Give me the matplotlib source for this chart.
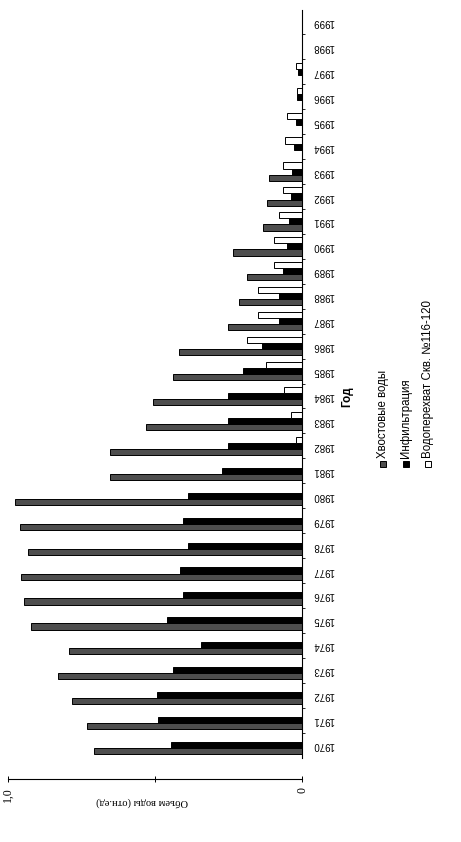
import matplotlib
matplotlib.use("Agg")
import matplotlib.pyplot as plt
from matplotlib.patches import Rectangle
import numpy as np

# Годы наблюдений
years = list(range(1970, 2000))

# Объем воды по источникам, отн. ед.
tailings = [0.707, 0.731, 0.782, 0.830, 0.793, 0.922, 0.946, 0.956, 0.932, 0.959,
            0.976, 0.653, 0.653, 0.531, 0.507, 0.439, 0.418, 0.252, 0.214, 0.187,
            0.235, 0.133, 0.119, 0.112, 0.0, 0.0, 0.0, 0.0, 0.0, 0.0]
infiltration = [0.446, 0.490, 0.493, 0.439, 0.344, 0.459, 0.405, 0.415, 0.388, 0.405,
                0.388, 0.272, 0.252, 0.252, 0.252, 0.201, 0.136, 0.078, 0.078, 0.065,
                0.051, 0.044, 0.037, 0.034, 0.027, 0.020, 0.017, 0.014, 0.0, 0.0]
interception = [0.0, 0.0, 0.0, 0.0, 0.0, 0.0, 0.0, 0.0, 0.0, 0.0,
                0.0, 0.0, 0.020, 0.037, 0.061, 0.122, 0.187, 0.150, 0.150, 0.095,
                0.095, 0.078, 0.065, 0.065, 0.058, 0.051, 0.017, 0.020, 0.0, 0.0]

series_names = ["Хвостовые воды", "Инфильтрация", "Водоперехват Скв. №116-120"]
series_colors = ["#4e4e4e", "#000000", "#ffffff"]

value_ticks = [0.0, 0.5, 1.0]
value_tick_labels = ["0", "", "1,0"]
value_title = "Объем воды (отн.ед)"
category_title = "Год"

W, H = 461, 842
fig = plt.figure(figsize=(W / 100, H / 100), dpi=100)


def fx(px):
    return px / W


def fy(py):
    return 1 - py / H


ax = fig.add_axes([fx(8), fy(757.5), fx(302 - 8), (757.5 - 9.5) / H])

pos = np.arange(len(years))
bh = 0.245
for i, (vals, col) in enumerate(zip([tailings, infiltration, interception], series_colors)):
    ax.barh(pos + (i - 1) * bh, vals, height=bh, color=col,
            edgecolor="black", linewidth=0.7)

ax.set_xlim(1.0, 0.0)
ax.set_ylim(-0.5, len(years) - 0.5)

# Category axis on the right side
for s in ["top", "left"]:
    ax.spines[s].set_visible(False)
ax.spines["right"].set_linewidth(0.8)
ax.yaxis.tick_right()
ax.set_yticks(pos)
ax.set_yticklabels([str(y) for y in years], rotation=180,
                   family="Liberation Sans", fontsize=7, va="center")
ax.set_yticks(pos[:-1] + 0.5, minor=True)
ax.tick_params(axis="y", which="major", length=0, pad=7.5)
ax.tick_params(axis="y", which="minor", length=2.5, width=0.6, direction="out")

# Value axis detached below the bars
ax.spines["bottom"].set_position(("outward", 15.5))
ax.spines["bottom"].set_linewidth(0.8)
ax.set_xticks(value_ticks)
ax.set_xticklabels(value_tick_labels, rotation=90, family="Liberation Serif",
                   fontsize=8.5)
ax.tick_params(axis="x", length=4, width=0.7, direction="inout", pad=4)

fig.text(fx(142), fy(802), value_title, rotation=180, ha="center", va="center",
         family="Liberation Serif", fontsize=7.6)
fig.text(fx(347), fy(397), category_title, rotation=90, ha="center", va="center",
         family="Liberation Sans", fontsize=8.5, fontweight="bold")

# Legend drawn as rotated entries
leg_x = [383, 405.5, 428]
for x, name, col in zip(leg_x, series_names, series_colors):
    fig.patches.append(Rectangle((fx(x - 3), fy(467)), 6 / W, 6 / H,
                                 transform=fig.transFigure, facecolor=col,
                                 edgecolor="black", linewidth=0.7))
    fig.text(fx(x), fy(458), name, rotation=90, ha="center", va="bottom",
             family="Liberation Sans", fontsize=8.3)

fig.savefig("out.png", dpi=100)
